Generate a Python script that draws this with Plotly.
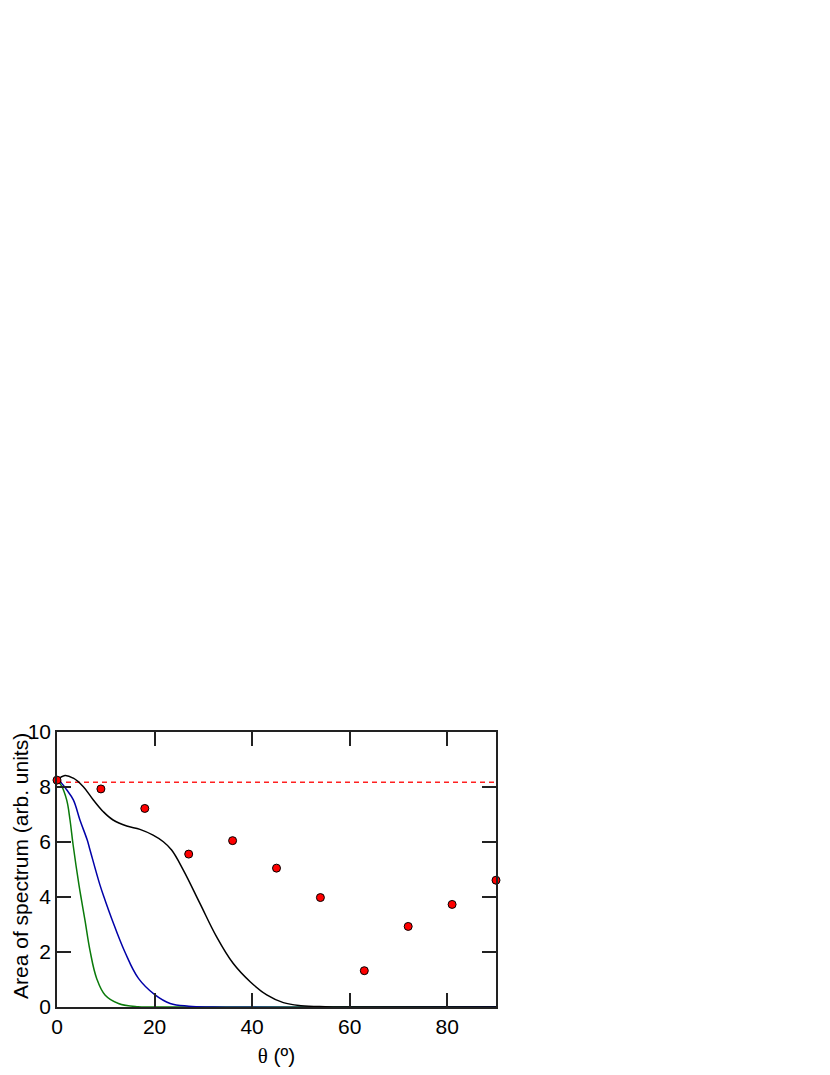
import plotly.graph_objects as go

# --- data --------------------------------------------------------------
theta_pts = [0, 9, 18, 27, 36, 45, 54, 63, 72, 81, 90]
area_pts = [8.25, 7.93, 7.22, 5.56, 6.05, 5.05, 3.98, 1.32, 2.93, 3.73, 4.61]

ref_x = [0, 90]
ref_y = [8.17, 8.17]

green_x = [0, 0.9, 1.98, 2.67, 3.3, 4.5, 5.06, 5.74, 6.77, 8.13, 9.84, 12.6, 16.6, 20, 90]
green_y = [8.25, 8.05, 7.53, 6.8, 5.9, 4.44, 3.85, 3.15, 2.05, 1.04, 0.44, 0.13, 0.01, 0, 0]

blue_x = [0, 0.6, 1.98, 3.35, 4.7, 6.2, 6.77, 8.8, 9.84, 11.2, 13.9, 16.7, 20.1, 23.2, 27, 32, 90]
blue_y = [8.25, 8.2, 7.9, 7.53, 6.8, 6.07, 5.71, 4.44, 3.89, 3.22, 2.01, 1.04, 0.44, 0.13, 0.03, 0, 0]

black_x = [0, 1.64, 3.35, 5.4, 7.45, 9.5, 11.5, 14.3, 17.0, 19.7, 21.8, 23.5, 25.9,
           29.3, 32.7, 36.1, 39.6, 43.0, 46.4, 50, 55, 60, 90]
black_y = [8.25, 8.42, 8.32, 8.01, 7.53, 7.1, 6.8, 6.58, 6.46, 6.25, 6.01, 5.71, 4.98,
           3.77, 2.56, 1.59, 0.92, 0.44, 0.16, 0.05, 0.01, 0, 0]

FONT = dict(family="Liberation Sans, Arial, sans-serif", size=21, color="#000000")
TITLE_FONT = dict(family="Liberation Sans, Arial, sans-serif", size=21, color="#000000")

fig = go.Figure()

fig.add_trace(go.Scatter(
    x=ref_x, y=ref_y, mode="lines",
    line=dict(color="#ff2020", width=1.5, dash="5px,4px"),
    cliponaxis=False,
))
for xs, ys, col in [(green_x, green_y, "#0a7a0a"),
                    (blue_x, blue_y, "#0000a8"),
                    (black_x, black_y, "#000000")]:
    fig.add_trace(go.Scatter(
        x=xs, y=ys, mode="lines",
        line=dict(color=col, width=1.5, shape="spline", smoothing=1.1),
        cliponaxis=False,
    ))
fig.add_trace(go.Scatter(
    x=theta_pts, y=area_pts, mode="markers",
    marker=dict(color="#ff0000", size=8, line=dict(color="#000000", width=1)),
    cliponaxis=False,
))

axis_common = dict(
    showline=True, linecolor="#222222", linewidth=1.5,
    mirror="ticks", ticks="inside", ticklen=14, tickwidth=1.5,
    tickcolor="#222222", showgrid=False, zeroline=False, automargin=False,
    tickfont=FONT, title_font=TITLE_FONT,
)

# the page body adds an 8px offset, so the figure is shrunk to fit
fig.update_layout(
    width=822, height=1067,
    paper_bgcolor="white", plot_bgcolor="white",
    showlegend=False,
    margin=dict(l=49, r=334, t=724, b=68),
    font=FONT,
)
fig.update_xaxes(range=[0, 90], tickvals=[0, 20, 40, 60, 80],
                 title_text='<span style="font-family:Liberation Serif">θ</span> (º)',
                 title_standoff=11, **axis_common)
fig.update_yaxes(range=[0, 10], tickvals=[0, 2, 4, 6, 8, 10], **axis_common)

# y title as a rotated annotation so it sits clear of the tick labels
fig.add_annotation(
    text="Area of spectrum (arb. units)", textangle=-90,
    xref="paper", yref="paper", x=-0.082, y=0.513,
    xanchor="center", yanchor="middle", showarrow=False, font=TITLE_FONT,
)

fig.write_html("out.html")
